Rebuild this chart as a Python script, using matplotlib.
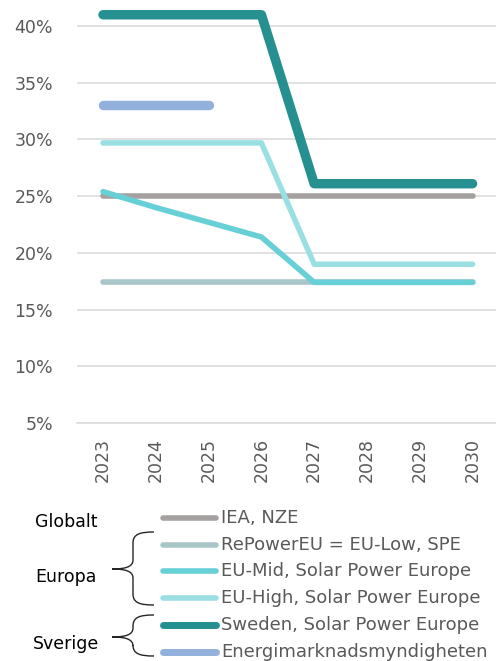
import matplotlib.pyplot as plt
from matplotlib.path import Path
from matplotlib.patches import PathPatch

plt.rcParams['font.family'] = ['DejaVu Sans']

years = [2023, 2024, 2025, 2026, 2027, 2028, 2029, 2030]

iea_nze = [25.0, 25.0, 25.0, 25.0, 25.0, 25.0, 25.0, 25.0]
repower_eu = [17.4, 17.4, 17.4, 17.4, 17.4, 17.4, 17.4, 17.4]
eu_mid = [25.4, 24.0, 22.7, 21.4, 17.4, 17.4, 17.4, 17.4]
eu_high = [29.7, 29.7, 29.7, 29.7, 19.0, 19.0, 19.0, 19.0]
sweden = [41.0, 41.0, 41.0, 41.0, 26.1, 26.1, 26.1, 26.1]
energi_years = [2023, 2024, 2025]
energi = [33.0, 33.0, 33.0]

labels = ["IEA, NZE", "RePowerEU = EU-Low, SPE", "EU-Mid, Solar Power Europe",
          "EU-High, Solar Power Europe", "Sweden, Solar Power Europe",
          "Energimarknadsmyndigheten"]
colors = ["#A5A1A1", "#A8C5C7", "#66D0D6", "#9AE0E3", "#268F8F", "#92B0DC"]
widths = [4.0, 4.0, 4.0, 4.0, 6.8, 6.8]
leg_widths = [4.0, 4.0, 4.0, 4.0, 5.0, 5.0]

groups = ["Globalt", "Europa", "Sverige"]

W, H = 496, 661
fig = plt.figure(figsize=(W / 100, H / 100), dpi=100)

# main chart, positioned in pixels
left, right, top, bottom = 76.6, 499, 0, 423
ax = fig.add_axes([left / W, 1 - bottom / H, (right - left) / W, (bottom - top) / H])
ax.set_xlim(2022.5, 2030.5)
ax.set_ylim(5, 42.3)

series = [(years, iea_nze), (years, repower_eu), (years, eu_mid),
          (years, eu_high), (years, sweden), (energi_years, energi)]
for (x, y), c, lw in zip(series, colors, widths):
    ax.plot(x, y, color=c, lw=lw, solid_capstyle='round',
            solid_joinstyle='round', clip_on=False, zorder=3)

ax.set_yticks([5, 10, 15, 20, 25, 30, 35, 40])
ax.set_yticklabels([f"{v}%" for v in [5, 10, 15, 20, 25, 30, 35, 40]])
ax.set_xticks(years)
ax.set_xticklabels([str(y) for y in years], rotation=90)
ax.grid(axis='y', color='#D9D9D9', lw=1.1)
ax.set_axisbelow(True)
for s in ['top', 'right', 'left']:
    ax.spines[s].set_visible(False)
ax.spines['bottom'].set_color('#D9D9D9')
ax.spines['bottom'].set_linewidth(1.1)
ax.tick_params(axis='y', length=0, pad=17, labelsize=12.5, labelcolor='#595959')
ax.tick_params(axis='x', length=0, pad=11, labelsize=12.5, labelcolor='#595959')

# legend overlay in pixel coordinates
ov = fig.add_axes([0, 0, 1, 1])
ov.set_xlim(0, W)
ov.set_ylim(H, 0)
ov.axis('off')
ov.patch.set_alpha(0)

row_y = [518, 545, 571, 598, 625, 652]
for yy, lab, c, lw in zip(row_y, labels, colors, leg_widths):
    ov.plot([163, 216], [yy, yy], color=c, lw=lw, solid_capstyle='round')
    ov.text(221, yy, lab, fontsize=13, color='#595959', va='center', ha='left')

for g, yy in zip(groups, [522, 577, 644]):
    ov.text(66, yy, g, fontsize=12.5, color='black', va='center', ha='center')


def brace(y0, ym, y1):
    verts = [(154, y0), (140, y0), (133, y0 + 2), (133, y0 + 11),
             (133, ym - 9),
             (133, ym - 2), (125, ym), (112, ym),
             (125, ym), (133, ym + 2), (133, ym + 9),
             (133, y1 - 11),
             (133, y1 - 2), (140, y1), (154, y1)]
    codes = [Path.MOVETO, Path.CURVE4, Path.CURVE4, Path.CURVE4,
             Path.LINETO,
             Path.CURVE4, Path.CURVE4, Path.CURVE4,
             Path.CURVE4, Path.CURVE4, Path.CURVE4,
             Path.LINETO,
             Path.CURVE4, Path.CURVE4, Path.CURVE4]
    ov.add_patch(PathPatch(Path(verts, codes), fill=False, ec='#262626', lw=1.0))


brace(532, 569, 605)
brace(615, 637, 656)

fig.savefig("out.png", dpi=100)
